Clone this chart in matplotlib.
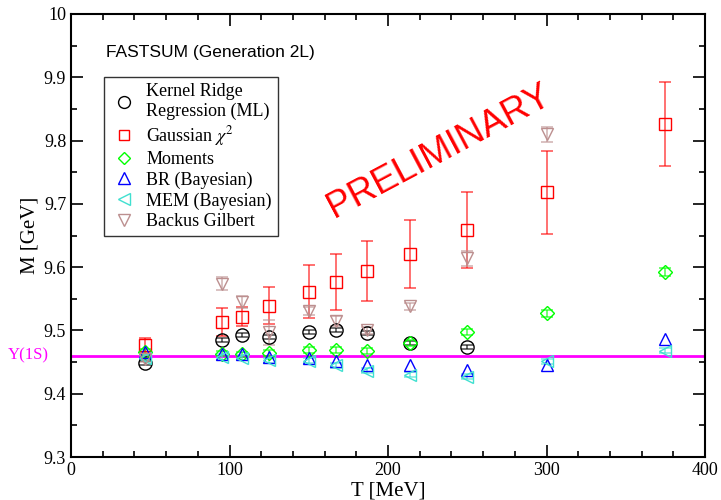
import numpy as np
import matplotlib
matplotlib.use("Agg")
import matplotlib.pyplot as plt
from matplotlib.ticker import MultipleLocator, FuncFormatter
import matplotlib.transforms as mtransforms

# temperatures [MeV]
T = [47, 95, 108, 125, 150, 167, 187, 214, 250, 300, 375]

krr = [9.448, 9.485, 9.493, 9.490, 9.498, 9.501, 9.496, 9.480, 9.474]
krr_err = [0.003, 0.003, 0.003, 0.003, 0.003, 0.003, 0.003, 0.003, 0.003]

gauss = [9.477, 9.513, 9.522, 9.539, 9.561, 9.577, 9.594, 9.621, 9.659, 9.718, 9.826]
gauss_err = [0.011, 0.022, 0.015, 0.029, 0.042, 0.044, 0.047, 0.054, 0.060, 0.066, 0.066]

moments = [9.466, 9.463, 9.462, 9.464, 9.469, 9.469, 9.468, 9.480, 9.498, 9.527, 9.592]
moments_err = [0.004, 0.004, 0.004, 0.005, 0.005, 0.005, 0.005, 0.005, 0.005, 0.005, 0.006]

br = [9.466, 9.463, 9.462, 9.458, 9.457, 9.451, 9.445, 9.445, 9.438, 9.445, 9.486]
mem = [9.457, 9.458, 9.457, 9.453, 9.452, 9.445, 9.436, 9.430, 9.427, 9.451, 9.468]
mem_err = [0.004, 0.004, 0.004, 0.004, 0.004, 0.004, 0.004, 0.004, 0.004, 0.004, 0.004]

bg = [9.455, 9.574, 9.545, 9.497, 9.531, 9.515, 9.500, 9.538, 9.614, 9.810]
bg_err = [0.005, 0.010, 0.010, 0.020, 0.006, 0.008, 0.005, 0.005, 0.012, 0.012]

upsilon = 9.46

plt.rcParams['font.family'] = ['Liberation Serif', 'DejaVu Serif']
plt.rcParams['mathtext.fontset'] = 'stix'

fig = plt.figure(figsize=(7.21, 5.0), dpi=100)
ax = fig.add_axes([71/721, 1-457/500, 634/721, 443/500])

ms = 8.5
cap = 4.5

def series(x, y, err, marker, color, label, size=ms):
    if err is not None:
        ax.errorbar(x, y, yerr=err, fmt='none', ecolor=color, alpha=0.6,
                    elinewidth=1.3, capsize=cap, capthick=1.3, zorder=2)
    ax.plot(x, y, linestyle='none', marker=marker, markersize=size,
            markerfacecolor='none', markeredgecolor=color,
            markeredgewidth=1.0, label=label, zorder=3)

ax.axhline(upsilon, color='#ff00ff', lw=2, zorder=1)

series(T[:len(krr)], krr, krr_err, 'o', 'black', 'Kernel Ridge\nRegression (ML)', 9.5)
series(T, gauss, gauss_err, 's', '#ff0000', r'Gaussian $\chi^2$')
series(T, moments, moments_err, 'D', '#00ff00', 'Moments', 7)
series(T, br, None, '^', '#0000ff', 'BR (Bayesian)', 9)
series(T, mem, mem_err, '<', '#40e0d0', 'MEM (Bayesian)', 9)
series(T[:len(bg)], bg, bg_err, 'v', '#bc8f8f', 'Backus Gilbert', 9)

ax.set_xlim(0, 400)
ax.set_ylim(9.3, 10.0)
ax.xaxis.set_major_locator(MultipleLocator(100))
ax.xaxis.set_minor_locator(MultipleLocator(20))
ax.yaxis.set_major_locator(MultipleLocator(0.1))
ax.yaxis.set_minor_locator(MultipleLocator(0.05))
ax.yaxis.set_major_formatter(FuncFormatter(lambda v, p: '%g' % round(v, 2)))
ax.tick_params(which='both', direction='in', top=True, right=True,
               labelsize=13, width=1.2)
ax.tick_params(which='major', length=8.5)
ax.tick_params(which='minor', length=4.5)
for s in ax.spines.values():
    s.set_linewidth(1.5)

ax.set_xlabel('T [MeV]', fontsize=15, labelpad=2)
ax.set_ylabel('M [GeV]', fontsize=15, labelpad=3)

tr = mtransforms.blended_transform_factory(ax.transAxes, ax.transData)
ax.text(-0.068, upsilon, 'Y(1S)', transform=tr, color='#ff00ff',
        fontsize=12, ha='center', va='center')

ax.text(0.055, 0.914, 'FASTSUM (Generation 2L)', transform=ax.transAxes,
        family=['Liberation Sans', 'DejaVu Sans'], fontsize=12.5,
        ha='left', va='center')

ax.text(0.580, 0.691, 'PRELIMINARY', transform=ax.transAxes, color='#ff0000',
        family=['Liberation Sans', 'DejaVu Sans'], fontsize=26.5,
        rotation=28, ha='center', va='center')

leg = ax.legend(loc='upper left', bbox_to_anchor=(0.052, 0.858), fontsize=13,
                frameon=True, fancybox=False, edgecolor='black',
                borderaxespad=0, handletextpad=0.5, labelspacing=0.19,
                borderpad=0.35, handlelength=1.5, markerscale=0.9)
leg.get_frame().set_linewidth(1.0)

fig.savefig('out.png', dpi=100)
